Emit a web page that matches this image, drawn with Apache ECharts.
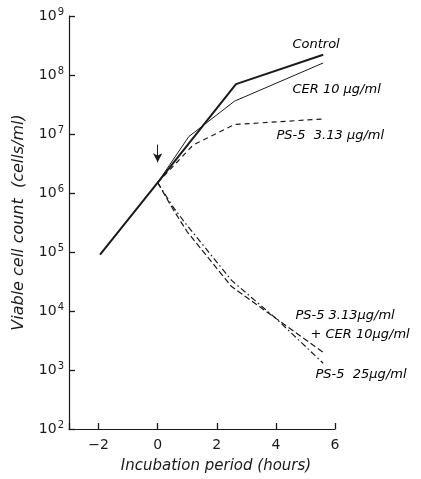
<!DOCTYPE html>
<html>
<head>
<meta charset="utf-8">
<script src="https://cdn.jsdelivr.net/npm/echarts@6/dist/echarts.min.js"></script>
<style>
  html, body { margin: 0; padding: 0; background: #fff; }
  #chart { width: 421px; height: 479px; }
</style>
</head>
<body>
<div id="chart"></div>
<script>
// incubation time (h) vs viable cells/ml
const control = [[-1.95, 9e4], [0, 1.5e6], [2.65, 7e7], [5.6, 2.2e8]];
const cer10 = [[0, 1.5e6], [1.05, 9e6], [2.6, 3.6e7], [5.6, 1.6e8]];
const ps5low = [[0, 1.5e6], [1.2, 6.5e6], [2.6, 1.45e7], [5.6, 1.8e7]];
const ps5lowCer = [[0, 1.5e6], [0.5, 5.5e5], [1, 2.2e5], [2.5, 2.6e4], [4, 7.5e3], [5.6, 2e3]];
const ps5high = [[0, 1.5e6], [0.5, 6e5], [1, 2.8e5], [2.5, 3.3e4], [4, 7.5e3], [5.6, 1.3e3]];
const xTicks = [-2, 0, 2, 4, 6];
const labels = [
  { text: 'Control', at: [4.56, 10 ** 8.52] },
  { text: 'CER 10 µg/ml', at: [4.56, 10 ** 7.76] },
  { text: 'PS-5  3.13 µg/ml', at: [4.02, 10 ** 6.98] },
  { text: 'PS-5 3.13µg/ml', at: [4.66, 10 ** 3.92] },
  { text: '+ CER 10µg/ml', at: [5.17, 10 ** 3.6] },
  { text: 'PS-5  25µg/ml', at: [5.34, 10 ** 2.93] }
];

const ink = '#1a1a1a';
const font = 'DejaVu Sans';

const chart = echarts.init(document.getElementById('chart'));

function line(data, width, type) {
  return {
    type: 'line',
    data: data,
    symbol: 'none',
    lineStyle: { color: ink, width: width, type: type },
    z: 3
  };
}

chart.setOption({
  animation: false,
  grid: { left: 69, right: 86, top: 16, bottom: 47 },
  xAxis: {
    type: 'value',
    min: -3,
    max: 6,
    name: 'Incubation period (hours)',
    nameLocation: 'middle',
    nameGap: 30,
    nameTextStyle: { color: ink, fontFamily: font, fontSize: 15, fontStyle: 'italic', padding: [0, 0, 0, 28] },
    axisLine: { onZero: false, lineStyle: { color: ink, width: 1.2 } },
    axisTick: { show: true, inside: true, length: 6, lineStyle: { color: ink, width: 1.3 } },
    axisLabel: { customValues: xTicks, color: ink, fontFamily: font, fontSize: 14, margin: 9,
      formatter: v => (v < 0 ? '−' + Math.abs(v) : String(v)) },
    splitLine: { show: false }
  },
  yAxis: {
    type: 'log',
    logBase: 10,
    min: 100,
    max: 1e9,
    name: 'Viable cell count  (cells/ml)',
    nameLocation: 'middle',
    nameGap: 42,
    nameTextStyle: { color: ink, fontFamily: font, fontSize: 16, fontStyle: 'italic' },
    axisLine: { show: true, onZero: false, lineStyle: { color: ink, width: 1.2 } },
    axisTick: { show: true, inside: true, length: 6, lineStyle: { color: ink, width: 1.3 } },
    axisLabel: {
      margin: 5,
      formatter: v => '{b|10}{s|' + Math.round(Math.log10(v)) + '}',
      rich: {
        b: { color: ink, fontFamily: font, fontSize: 14 },
        s: { color: ink, fontFamily: font, fontSize: 10, verticalAlign: 'bottom', padding: [0, 0, 8, 1] }
      }
    },
    splitLine: { show: false }
  },
  series: [
    Object.assign(line(control, 2, 'solid'), {
      markLine: {
        silent: true,
        symbol: ['none', 'arrow'],
        symbolSize: [7, 9],
        lineStyle: { color: ink, width: 1, type: 'solid' },
        label: { show: false },
        data: [[{ coord: [0, 10 ** 6.82] }, { coord: [0, 10 ** 6.52] }]]
      }
    }),
    line(cer10, 1, 'solid'),
    line(ps5low, 1.2, [5, 4]),
    line(ps5lowCer, 1.2, [6, 3]),
    line(ps5high, 1.2, [6, 3, 1.5, 3]),
    {
      type: 'scatter',
      symbolSize: 0,
      clip: false,
      silent: true,
      itemStyle: { opacity: 1, color: ink },
      data: labels.map(d => ({ value: d.at, name: d.text })),
      label: {
        show: true,
        position: 'right',
        distance: 0,
        formatter: p => p.name,
        color: '#000',
        opacity: 1,
        fontFamily: font,
        fontSize: 13,
        fontStyle: 'italic'
      }
    }
  ]
});
</script>
</body>
</html>
